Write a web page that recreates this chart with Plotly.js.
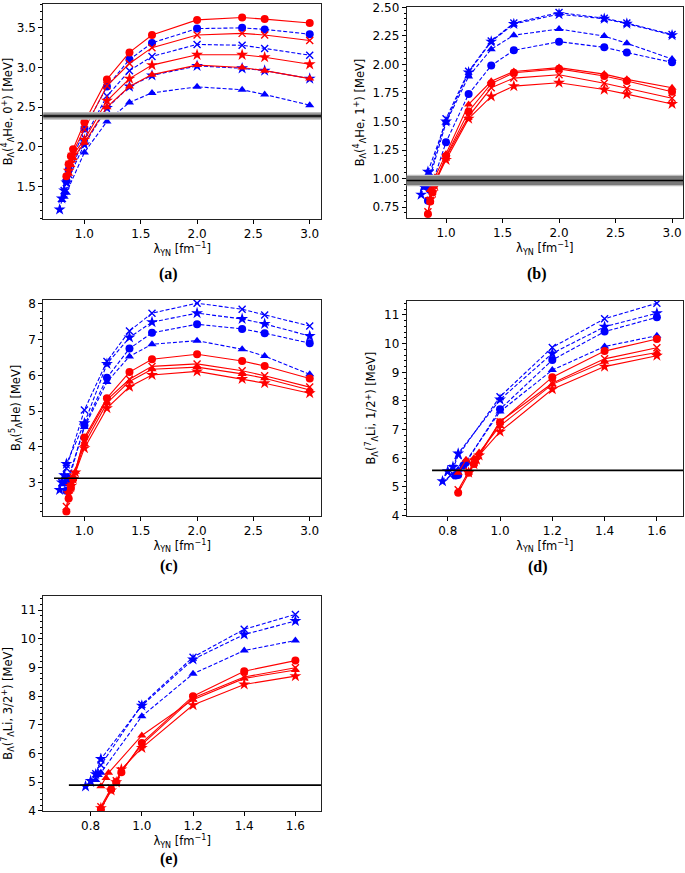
<!DOCTYPE html>
<html><head><meta charset="utf-8">
<script src="https://cdn.plot.ly/plotly-3.0.1.min.js"></script>
<style>html,body{margin:0;padding:0;background:#fff}#p{width:685px;height:873px}</style>
</head><body><div id="p"></div>
<script>
// shared lambda grids
const mainX_abc = [1.0, 1.2, 1.4, 1.6, 2.0, 2.4, 2.6, 3.0];
const mainX_de = [1.0, 1.2, 1.4, 1.6];

// ---- panel (a): 4He 0+
const a_rc_lowX = [0.84, 0.86, 0.88, 0.90]; const a_rc_y = [1.63, 1.78, 1.88, 1.97, 2.31, 2.85, 3.19, 3.41, 3.60, 3.63, 3.61, 3.56];
const a_rx_lowX = [0.86, 0.88, 0.90];       const a_rx_y = [1.74, 1.85, 1.94, 2.22, 2.77, 3.05, 3.25, 3.41, 3.43, 3.41, 3.34];
const a_rs_lowX = [0.86, 0.88, 0.90];       const a_rs_y = [1.70, 1.80, 1.90, 2.09, 2.58, 2.86, 3.03, 3.16, 3.16, 3.13, 3.04];
const a_rt_lowX = [0.86, 0.88, 0.90];       const a_rt_y = [1.66, 1.77, 1.86, 2.05, 2.50, 2.76, 2.91, 3.03, 3.00, 2.96, 2.86];
const a_bc_lowX = [0.84, 0.86];             const a_bc_y = [1.57, 1.71, 2.23, 2.76, 3.10, 3.31, 3.49, 3.50, 3.48, 3.42];
const a_bx_lowX = [0.82, 0.84, 0.86];       const a_bx_y = [1.45, 1.55, 1.65, 2.11, 2.64, 2.96, 3.14, 3.29, 3.28, 3.24, 3.155];
const a_bs_lowX = [0.78, 0.80, 0.82, 0.84]; const a_bs_y = [1.21, 1.35, 1.45, 1.55, 2.03, 2.49, 2.76, 2.90, 3.02, 2.99, 2.96, 2.86];
const a_bt_lowX = [0.80, 0.82, 0.84];       const a_bt_y = [1.33, 1.37, 1.42, 1.93, 2.32, 2.56, 2.68, 2.756, 2.72, 2.66, 2.525];

// ---- panel (b): 4He 1+
const b_rc_lowX = [0.84, 0.86, 0.88, 0.90]; const b_rc_y = [0.69, 0.80, 0.88, 0.95, 1.195, 1.588, 1.832, 1.927, 1.961, 1.898, 1.855, 1.76];
const b_rx_lowX = [0.84, 0.86, 0.88, 0.90]; const b_rx_y = [0.71, 0.81, 0.89, 0.97, 1.187, 1.545, 1.795, 1.88, 1.909, 1.835, 1.79, 1.703];
const b_rs_lowX = [0.86, 0.88, 0.90, 0.92]; const b_rs_y = [0.82, 0.88, 0.94, 1.00, 1.164, 1.525, 1.72, 1.81, 1.84, 1.78, 1.74, 1.654];
const b_rt_lowX = [0.86, 0.88, 0.90];       const b_rt_y = [0.90, 0.96, 1.01, 1.216, 1.65, 1.852, 1.938, 1.972, 1.915, 1.869, 1.795];
const b_bc_lowX = [0.84, 0.86];             const b_bc_y = [0.806, 0.90, 1.319, 1.74, 1.99, 2.124, 2.199, 2.15, 2.104, 2.018];
const b_bx_lowX = [0.82, 0.84, 0.86];       const b_bx_y = [0.95, 1.00, 1.05, 1.525, 1.94, 2.205, 2.362, 2.454, 2.405, 2.362, 2.262];
const b_bs_lowX = [0.78, 0.80, 0.82, 0.84]; const b_bs_y = [0.86, 0.93, 0.97, 1.06, 1.50, 1.93, 2.20, 2.354, 2.44, 2.40, 2.357, 2.256];
const b_bt_lowX = [0.82, 0.84, 0.86];       const b_bt_y = [0.92, 0.97, 1.02, 1.49, 1.895, 2.133, 2.256, 2.31, 2.248, 2.185, 2.047];

// ---- panel (c): 5He
const c_rc_lowX = [0.84, 0.86, 0.88, 0.90]; const c_rc_y = [2.19, 2.55, 2.85, 3.10, 4.26, 5.36, 6.09, 6.45, 6.59, 6.40, 6.26, 5.91];
const c_rx_lowX = [0.84, 0.86, 0.88, 0.90]; const c_rx_y = [2.33, 2.62, 2.90, 3.15, 4.19, 5.31, 5.89, 6.25, 6.32, 6.13, 5.99, 5.67];
const c_rs_lowX = [0.86, 0.88, 0.90, 0.92]; const c_rs_y = [2.70, 2.90, 3.10, 3.28, 3.96, 5.08, 5.68, 6.01, 6.11, 5.90, 5.78, 5.50];
const c_rt_lowX = [0.86, 0.88, 0.90, 0.92]; const c_rt_y = [2.75, 2.95, 3.15, 3.30, 4.08, 5.22, 5.83, 6.17, 6.23, 6.04, 5.92, 5.59];
const c_bc_lowX = [0.84, 0.86];             const c_bc_y = [2.77, 3.05, 4.60, 5.93, 6.75, 7.19, 7.43, 7.30, 7.18, 6.90];
const c_bx_lowX = [0.80, 0.82, 0.84];       const c_bx_y = [3.00, 3.15, 3.40, 5.03, 6.39, 7.24, 7.74, 8.02, 7.85, 7.69, 7.38];
const c_bs_lowX = [0.78, 0.80, 0.82, 0.84]; const c_bs_y = [2.79, 3.00, 3.20, 3.52, 4.66, 6.32, 7.06, 7.49, 7.74, 7.58, 7.44, 7.10];
const c_bt_lowX = [0.82, 0.84, 0.86];       const c_bt_y = [2.95, 3.05, 3.15, 4.55, 5.81, 6.53, 6.87, 6.97, 6.73, 6.54, 6.03];

// ---- panel (d): 7Li 1/2+
const d_rc_lowX = [0.84, 0.88, 0.90];       const d_rc_y = [4.80, 5.50, 5.80, 7.26, 8.83, 9.74, 10.16];
const d_rx_lowX = [0.84, 0.88, 0.90];       const d_rx_y = [4.90, 5.55, 5.85, 7.28, 8.62, 9.47, 9.86];
const d_rs_lowX = [0.88, 0.90, 0.91, 0.92]; const d_rs_y = [5.50, 5.80, 5.95, 6.10, 6.93, 8.41, 9.20, 9.58];
const d_rt_lowX = [0.84, 0.87, 0.90, 0.92]; const d_rt_y = [5.50, 5.95, 6.00, 6.20, 7.13, 8.58, 9.37, 9.69];
const d_bc_lowX = [0.83, 0.84, 0.86, 0.87]; const d_bc_y = [5.40, 5.42, 5.75, 5.85, 7.71, 9.43, 10.42, 10.92];
const d_bx_lowX = [0.81, 0.82, 0.84];       const d_bx_y = [5.40, 5.65, 6.10, 8.15, 9.87, 10.87, 11.41];
const d_bs_lowX = [0.78, 0.80, 0.82, 0.84]; const d_bs_y = [5.20, 5.55, 5.70, 6.17, 8.05, 9.66, 10.59, 11.06];
const d_bt_lowX = [0.84, 0.86, 0.87];       const d_bt_y = [5.60, 5.80, 5.90, 7.63, 9.08, 9.90, 10.28];

// ---- panel (e): 7Li 3/2+
const e_rc_lowX = [0.84, 0.88, 0.90, 0.92]; const e_rc_y = [4.05, 4.75, 5.00, 5.35, 6.37, 8.00, 8.87, 9.24];
const e_rx_lowX = [0.84, 0.88, 0.90, 0.92]; const e_rx_y = [4.15, 4.80, 5.05, 5.40, 6.31, 7.94, 8.67, 8.99];
const e_rs_lowX = [0.84, 0.88, 0.90, 0.92]; const e_rs_y = [4.10, 4.72, 5.00, 5.45, 6.20, 7.69, 8.41, 8.70];
const e_rt_lowX = [0.84, 0.86, 0.87];       const e_rt_y = [4.86, 5.15, 5.33, 6.63, 7.88, 8.62, 8.91];
const e_bx_lowX = [0.80, 0.82, 0.84];       const e_bx_y = [4.98, 5.30, 5.60, 7.71, 9.36, 10.33, 10.85];
const e_bs_lowX = [0.78, 0.80, 0.82, 0.84]; const e_bs_y = [4.86, 5.05, 5.28, 5.81, 7.67, 9.28, 10.15, 10.62];
const e_bt_lowX = [0.82, 0.83, 0.84];       const e_bt_y = [5.08, 5.25, 5.33, 7.30, 8.78, 9.59, 9.94];

// experimental values
const expA = {c: 2.39, dark: 0.03, light: 0.05};
const expB = {c: 0.983, dark: 0.04, light: 0.05};
const expC = [0.73, 3.1, 3.12];  // x0, x1, value
const expD = [0.74, 1.70, 5.58];
const expE = [0.715, 1.70, 4.90];

const RED = '#ff0000', BLUE = '#0000ff';
const sym = {c: 'circle', x: 'x-thin', s: 'star', t: 'triangle-up'};
const msize = {c: 8, x: 7, s: 9, t: 8};

function tr(lowX, mainX, y, color, mk, dashed, xa, ya) {
  const m = {symbol: sym[mk], size: msize[mk], color: color, line: {color: color, width: mk === 'x' ? 1.4 : 0}};
  return {x: lowX.concat(mainX), y: y, xaxis: xa, yaxis: ya, type: 'scatter', mode: 'lines+markers',
    line: {color: color, width: 1.1, dash: dashed ? '4px,2px' : 'solid'}, marker: m, showlegend: false, hoverinfo: 'skip'};
}
const traces = [];
function panel(p, mainX, xa, ya, series) {
  series.forEach(s => traces.push(tr(s[0], mainX, s[1], s[2], s[3], s[2] === BLUE, xa, ya)));
}
panel('a', mainX_abc, 'x', 'y', [
  [a_bt_lowX, a_bt_y, BLUE, 't'], [a_bs_lowX, a_bs_y, BLUE, 's'], [a_bx_lowX, a_bx_y, BLUE, 'x'], [a_bc_lowX, a_bc_y, BLUE, 'c'],
  [a_rt_lowX, a_rt_y, RED, 't'], [a_rs_lowX, a_rs_y, RED, 's'], [a_rx_lowX, a_rx_y, RED, 'x'], [a_rc_lowX, a_rc_y, RED, 'c']]);
panel('b', mainX_abc, 'x2', 'y2', [
  [b_bt_lowX, b_bt_y, BLUE, 't'], [b_bs_lowX, b_bs_y, BLUE, 's'], [b_bx_lowX, b_bx_y, BLUE, 'x'], [b_bc_lowX, b_bc_y, BLUE, 'c'],
  [b_rt_lowX, b_rt_y, RED, 't'], [b_rs_lowX, b_rs_y, RED, 's'], [b_rx_lowX, b_rx_y, RED, 'x'], [b_rc_lowX, b_rc_y, RED, 'c']]);
panel('c', mainX_abc, 'x3', 'y3', [
  [c_bt_lowX, c_bt_y, BLUE, 't'], [c_bs_lowX, c_bs_y, BLUE, 's'], [c_bx_lowX, c_bx_y, BLUE, 'x'], [c_bc_lowX, c_bc_y, BLUE, 'c'],
  [c_rt_lowX, c_rt_y, RED, 't'], [c_rs_lowX, c_rs_y, RED, 's'], [c_rx_lowX, c_rx_y, RED, 'x'], [c_rc_lowX, c_rc_y, RED, 'c']]);
panel('d', mainX_de, 'x4', 'y4', [
  [d_bt_lowX, d_bt_y, BLUE, 't'], [d_bs_lowX, d_bs_y, BLUE, 's'], [d_bx_lowX, d_bx_y, BLUE, 'x'], [d_bc_lowX, d_bc_y, BLUE, 'c'],
  [d_rt_lowX, d_rt_y, RED, 't'], [d_rs_lowX, d_rs_y, RED, 's'], [d_rx_lowX, d_rx_y, RED, 'x'], [d_rc_lowX, d_rc_y, RED, 'c']]);
panel('e', mainX_de, 'x5', 'y5', [
  [e_bt_lowX, e_bt_y, BLUE, 't'], [e_bs_lowX, e_bs_y, BLUE, 's'], [e_bx_lowX, e_bx_y, BLUE, 'x'],
  [e_rt_lowX, e_rt_y, RED, 't'], [e_rs_lowX, e_rs_y, RED, 's'], [e_rx_lowX, e_rx_y, RED, 'x'], [e_rc_lowX, e_rc_y, RED, 'c']]);

// experimental horizontal lines (c,d,e) as traces
[[expC, 'x3', 'y3'], [expD, 'x4', 'y4'], [expE, 'x5', 'y5']].forEach(([e, xa, ya]) => {
  traces.push({x: [e[0], e[1]], y: [e[2], e[2]], xaxis: xa, yaxis: ya, mode: 'lines',
    line: {color: '#000', width: 1.6}, showlegend: false, hoverinfo: 'skip', cliponaxis: true});
});

const shapes = [];
function band(e, xa, ya) {
  shapes.push({type: 'rect', xref: xa + ' domain', yref: ya, x0: 0, x1: 1, y0: e.c - e.light, y1: e.c + e.light, fillcolor: '#bdbdbd', line: {width: 0}, layer: 'above'});
  shapes.push({type: 'rect', xref: xa + ' domain', yref: ya, x0: 0, x1: 1, y0: e.c - e.dark, y1: e.c + e.dark, fillcolor: '#7a7a7a', line: {width: 0}, layer: 'above'});
  shapes.push({type: 'line', xref: xa + ' domain', yref: ya, x0: 0, x1: 1, y0: e.c, y1: e.c, line: {color: '#000', width: 1.5}, layer: 'above'});
}
band(expA, 'x', 'y');
band(expB, 'x2', 'y2');

const TF = {family: 'DejaVu Sans, sans-serif', size: 12, color: '#000'};
const TTF = {family: 'DejaVu Sans, sans-serif', size: 11.5, color: '#000'};
const xTitle = 'λ<sub>YN</sub> [fm<sup>−1</sup>]';
function xax(dom, range, dtick, fmt, anchor) {
  return {domain: dom, range: range, dtick: dtick, tick0: 0, tickformat: fmt, anchor: anchor,
    showgrid: false, zeroline: false, showline: true, mirror: true, linecolor: '#222', linewidth: 1,
    ticks: 'outside', ticklen: 4, tickcolor: '#000', tickfont: TF, ticklabeloverflow: 'allow',
    title: {text: xTitle, font: TTF, standoff: 2}};
}
function yax(dom, range, dtick, fmt, minor, anchor, title) {
  return {domain: dom, range: range, dtick: dtick, tick0: 0, tickformat: fmt, anchor: anchor,
    showgrid: false, zeroline: false, showline: true, mirror: true, linecolor: '#222', linewidth: 1,
    ticks: 'outside', ticklen: 4, tickcolor: '#000', tickfont: TF, ticklabeloverflow: 'allow',
    minor: {dtick: minor, ticks: 'outside', ticklen: 2, tickcolor: '#000', showgrid: false},
    title: {text: title, font: TTF, standoff: 5}};
}
const dxL = [0.0632, 0.4686], dxR = [0.5937, 0.9971];
const layout = {
  width: 685, height: 873, margin: {l: 0, r: 0, t: 0, b: 0}, paper_bgcolor: '#fff', plot_bgcolor: '#fff',
  showlegend: false, shapes: shapes,
  xaxis: xax(dxL, [0.635, 3.10], 0.5, '.1f', 'y'),
  yaxis: yax([0.7491, 0.9954], [1.09, 3.80], 0.5, '.1f', 0.1, 'x', 'B<sub>Λ</sub>(<sup>4</sup><sub>Λ</sub>He, 0<sup>+</sup>) [MeV]'),
  xaxis2: xax(dxR, [0.652, 3.097], 0.5, '.1f', 'y2'),
  yaxis2: yax([0.7503, 0.9920], [0.655, 2.503], 0.25, '.2f', 0.05, 'x2', 'B<sub>Λ</sub>(<sup>4</sup><sub>Λ</sub>He, 1<sup>+</sup>) [MeV]'),
  xaxis3: xax(dxL, [0.635, 3.10], 0.5, '.1f', 'y3'),
  yaxis3: yax([0.4093, 0.6564], [2.07, 8.11], 1, 'd', 0.2, 'x3', 'B<sub>Λ</sub>(<sup>5</sup><sub>Λ</sub>He) [MeV]'),
  xaxis4: xax(dxR, [0.643, 1.70], 0.2, '.1f', 'y4'),
  yaxis4: yax([0.4093, 0.6556], [3.999, 11.5], 1, 'd', 0.2, 'x4', 'B<sub>Λ</sub>(<sup>7</sup><sub>Λ</sub>Li, 1/2<sup>+</sup>) [MeV]'),
  xaxis5: xax(dxL, [0.615, 1.70], 0.2, '.1f', 'y5'),
  yaxis5: yax([0.0710, 0.3176], [3.999, 11.5], 1, 'd', 0.2, 'x5', 'B<sub>Λ</sub>(<sup>7</sup><sub>Λ</sub>Li, 3/2<sup>+</sup>) [MeV]'),
  annotations: [
    ['(a)', 0.2467, 0.6861], ['(b)', 0.784, 0.6861], ['(c)', 0.2467, 0.3517], ['(d)', 0.785, 0.3505], ['(e)', 0.2467, 0.0160]
  ].map(a => ({text: '<b>' + a[0] + '</b>', x: a[1], y: a[2], xref: 'paper', yref: 'paper', showarrow: false,
    xanchor: 'center', yanchor: 'middle', font: {family: 'Liberation Serif, Times New Roman, serif', size: 16, color: '#000'}}))
};
Plotly.newPlot('p', traces, layout, {staticPlot: true, displayModeBar: false});
</script></body></html>
